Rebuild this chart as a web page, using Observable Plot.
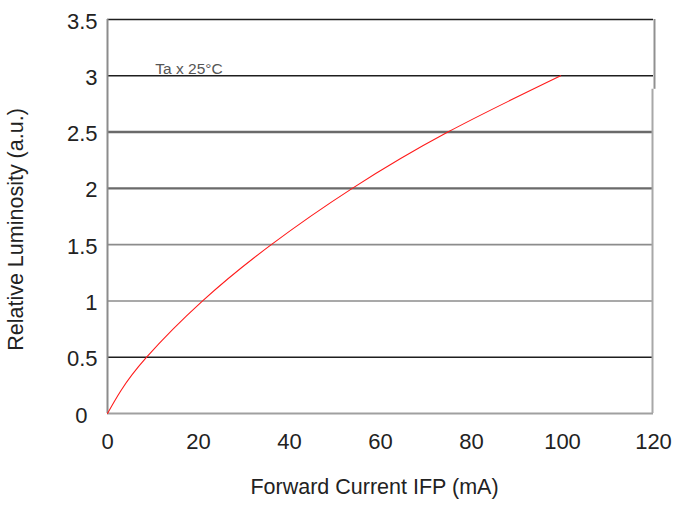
<!DOCTYPE html>
<html>
<head>
<meta charset="utf-8">
<script src="https://cdn.jsdelivr.net/npm/d3@7"></script>
<script src="https://cdn.jsdelivr.net/npm/@observablehq/plot@0.6"></script>
<style>
  html, body { margin: 0; padding: 0; background: #fff; }
  #chart { width: 674px; height: 506px; }
</style>
</head>
<body>
<div id="chart"></div>
<script>
// Data
const current = [0, 2.9, 8.6, 20.9, 36.0, 53.8, 74.8, 99.6];
const luminosity = [0, 0.2, 0.5, 1.0, 1.5, 2.0, 2.5, 3.0];
const xTicks = [0, 20, 40, 60, 80, 100, 120];
const yTicks = [0, 0.5, 1, 1.5, 2, 2.5, 3, 3.5];
const annotation = "Ta x 25°C";
const xLabel = "Forward Current IFP (mA)";
const yLabel = "Relative Luminosity (a.u.)";

const curve = current.map((c, i) => ({ I: c, L: luminosity[i] }));

// grid line appearance by value
const gridStroke = v => (v === 3.5 || v === 3 || v === 0.5) ? "#1e1e1e" : (v === 2.5 || v === 2) ? "#6a6a6a" : (v === 0 ? "#a0a0a0" : "#8c8c8c");
const gridWidth = v => (v === 2.5 || v === 2) ? 2.4 : (v === 0 ? 2 : 1.6);

const font = "Liberation Sans, Arial, Helvetica, sans-serif";

const chart = Plot.plot({
  width: 674,
  height: 506,
  marginLeft: 107,
  marginRight: 21,
  marginTop: 19,
  marginBottom: 93,
  style: { fontFamily: font, background: "#fff", color: "#222" },
  x: { domain: [0, 120] },
  y: { domain: [0, 3.5] },
  marks: [
    Plot.ruleY(yTicks, { y: d => d, stroke: d => gridStroke(d), strokeWidth: d => gridWidth(d) }),
    Plot.ruleX([0], { stroke: "#8c8c8c", strokeWidth: 2 }),
    Plot.ruleX([120], { y1: 3.5, y2: 2.88, dx: 1, stroke: "#909090", strokeWidth: 2 }),
    Plot.ruleX([120], { y1: 2.88, y2: 0, dx: -1, stroke: "#a8a8a8", strokeWidth: 2 }),
    Plot.line(curve, { x: "I", y: "L", stroke: "#ff1a1a", strokeWidth: 1.1, curve: "natural" }),
    Plot.axisX(xTicks, { tickSize: 0, tickPadding: 20, fontSize: 22, tickFormat: d => String(d), label: null, fill: "#222" }),
    Plot.axisY(yTicks.filter(d => d !== 0), { tickSize: 0, tickPadding: 10, dy: 2, fontSize: 22, tickFormat: d => String(d), label: null, fill: "#222" }),
    Plot.axisY([0], { tickSize: 0, tickPadding: 20, dy: 2, fontSize: 22, tickFormat: d => String(d), label: null, fill: "#222" }),
    Plot.text([xLabel], { frameAnchor: "bottom", dx: -6, dy: 80, fontSize: 21.5, fill: "#222", text: d => d }),
    Plot.text([yLabel], { frameAnchor: "left", textAnchor: "middle", dx: -91, dy: 13, rotate: -90, fontSize: 21.5, fill: "#222", text: d => d }),
    Plot.text([annotation], { x: 10.5, y: 3, dy: -2, lineAnchor: "bottom", textAnchor: "start", fontSize: 15.5, fill: "#555", text: d => d })
  ]
});
document.getElementById("chart").appendChild(chart);
</script>
</body>
</html>
